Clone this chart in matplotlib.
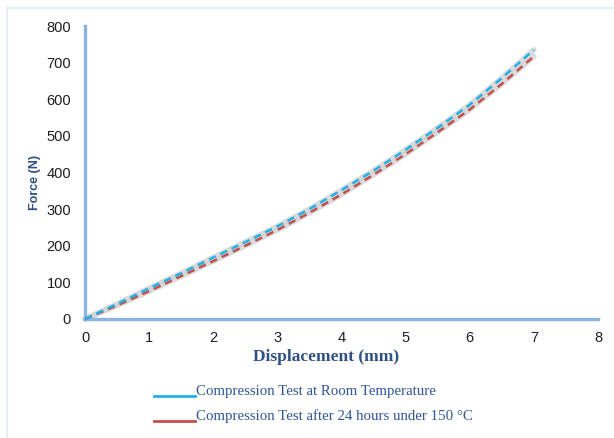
import matplotlib
matplotlib.use("Agg")
import matplotlib.pyplot as plt
from matplotlib.lines import Line2D
from matplotlib.patches import Rectangle

# Force-displacement readings from the two compression tests
displacement = [0, 0.5, 1, 1.5, 2, 2.5, 3, 3.5, 4, 4.5, 5, 5.5, 6, 6.5, 7]
force_room = [0, 41, 84, 125, 168, 210, 253, 300, 352, 405, 462, 522, 585, 658, 735]
force_heated = [0, 37, 76, 117, 158, 200, 243, 290, 340, 394, 450, 510, 572, 642, 717]

x_ticks = [0, 1, 2, 3, 4, 5, 6, 7, 8]
y_ticks = [0, 100, 200, 300, 400, 500, 600, 700, 800]

series_labels = ["Compression Test at Room Temperature",
                 "Compression Test after 24 hours under 150 \u00b0C"]

BLUE = "#21b1ea"
RED = "#c0504d"
SPINE = "#8db3e2"
SHADOW = "#d3d3d3"

W, H = 614, 438
fig = plt.figure(figsize=(W / 100, H / 100), dpi=100)
fig.patch.set_facecolor("white")

# faint frame around the chart area
fig.patches.append(Rectangle((7 / W, -0.05), 1.1, 1 - 8 / H + 0.05,
                             transform=fig.transFigure, fill=False,
                             edgecolor="#e6ecf5", linewidth=1.5))

ax = fig.add_axes([85 / W, 1 - 319 / H, (598 - 85) / W, (319 - 26) / H])
ax.set_xlim(0, 8)
ax.set_ylim(0, 800)
ax.set_xticks(x_ticks)
ax.set_yticks(y_ticks)

for s in ("top", "right"):
    ax.spines[s].set_visible(False)
for s in ("left", "bottom"):
    ax.spines[s].set_color(SPINE)
    ax.spines[s].set_linewidth(2.4)
ax.tick_params(length=0, labelsize=10.5, labelcolor="#1e1e1e")
ax.tick_params(axis="y", pad=10)
ax.tick_params(axis="x", pad=9)
for lab in ax.get_xticklabels() + ax.get_yticklabels():
    lab.set_fontfamily("Liberation Sans")

# grey underlay beneath each dashed curve
for f in (force_room, force_heated):
    ax.plot(displacement, f, color=SHADOW, lw=4.0, alpha=0.8,
            solid_capstyle="round", solid_joinstyle="round",
            zorder=2, clip_on=False)
ax.plot(displacement, force_heated, color=RED, lw=1.8, dashes=(3.0, 2.0),
        zorder=3, clip_on=False)
ax.plot(displacement, force_room, color=BLUE, lw=1.8, dashes=(3.0, 2.0),
        zorder=4, clip_on=False)

fig.text(35 / W, 1 - 182 / H, "Force (N)", rotation=90, ha="center",
         va="center", fontsize=9, fontweight="bold", color="#2f4f86",
         family="Liberation Sans")
fig.text(326 / W, 1 - 357 / H, "Displacement (mm)", ha="center",
         va="center", fontsize=12.5, fontweight="bold", color="#2f4f86",
         family="Liberation Serif")

# legend entries: short line followed by the label
for label, col, yy in ((series_labels[0], BLUE, 396), (series_labels[1], RED, 421)):
    fig.add_artist(Line2D([154 / W, 195 / W], [1 - yy / H, 1 - yy / H],
                          transform=fig.transFigure, color=col, lw=2.0))
    fig.text(196 / W, 1 - (yy - 5) / H, label, ha="left", va="center",
             fontsize=10.7, color="#2f5597", family="Liberation Serif")

fig.savefig("out.png", dpi=100, facecolor="white")
